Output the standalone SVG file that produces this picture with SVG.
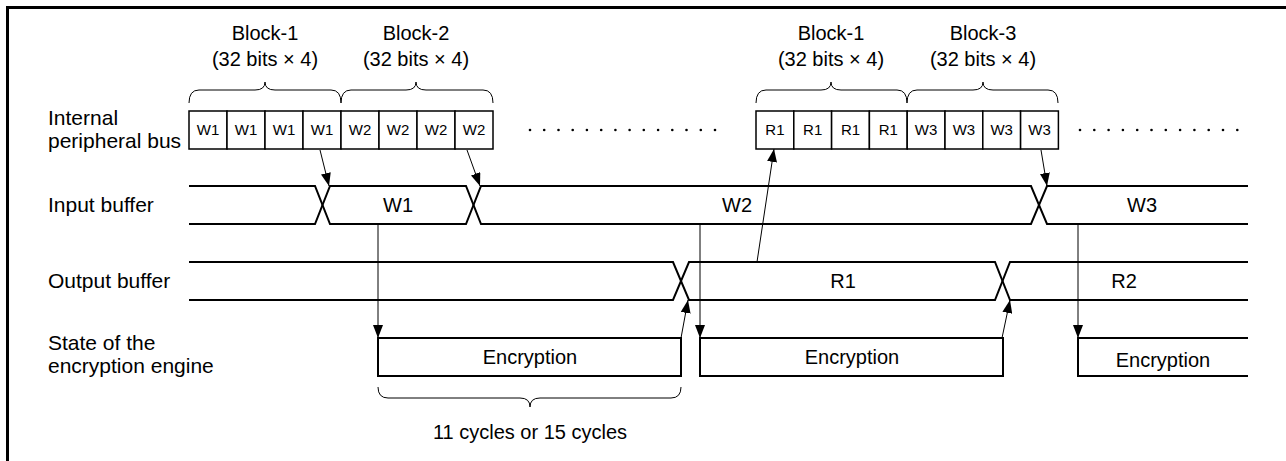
<svg xmlns="http://www.w3.org/2000/svg" width="1286" height="461" viewBox="0 0 1286 461">
<defs>
<marker id="ah" viewBox="0 0 13 10" refX="13" refY="5" markerWidth="13" markerHeight="10" markerUnits="userSpaceOnUse" orient="auto">
<path d="M0,0 L13,5 L0,10 Z" fill="#000"/>
</marker>
<style>
text{font-family:"Liberation Sans",Arial,sans-serif;fill:#000}
.lbl{font-size:20px}
.side{font-size:21px}
.mid{text-anchor:middle}
.w{font-size:15px;text-anchor:middle}
.box{fill:#fff;stroke:#000;stroke-width:1.5}
.sig{fill:none;stroke:#000;stroke-width:2}
.brace{fill:none;stroke:#000;stroke-width:1}
.arr{fill:none;stroke:#000;stroke-width:1;marker-end:url(#ah)}
.dot{fill:#000}
</style>
</defs>
<rect x="7.5" y="7.5" width="1300" height="470" fill="none" stroke="#000" stroke-width="3"/>

<g id="labels">
<text class="side" x="48" y="125">Internal</text>
<text class="side" x="48" y="148">peripheral bus</text>
<text class="side" x="48" y="212">Input buffer</text>
<text class="side" x="48" y="288">Output buffer</text>
<text class="side" x="48" y="350">State of the</text>
<text class="side" x="48" y="373">encryption engine</text>
</g>

<g id="block1a">
<text class="lbl mid" x="265" y="40">Block-1</text>
<text class="lbl mid" x="265" y="66">(32 bits × 4)</text>
<path class="brace" d="M189,103 Q189,90 199,90 L255,90 Q265,90 265,82 Q265,90 275,90 L331,90 Q341,90 341,103"/>
</g>
<g id="block2">
<text class="lbl mid" x="416" y="40">Block-2</text>
<text class="lbl mid" x="416" y="66">(32 bits × 4)</text>
<path class="brace" d="M341,103 Q341,90 351,90 L406,90 Q416,90 416,82 Q416,90 426,90 L483,90 Q493,90 493,103"/>
</g>
<g id="block1b">
<text class="lbl mid" x="831" y="40">Block-1</text>
<text class="lbl mid" x="831" y="66">(32 bits × 4)</text>
<path class="brace" d="M756,103 Q756,90 766,90 L821,90 Q831,90 831,82 Q831,90 841,90 L897,90 Q907,90 907,103"/>
</g>
<g id="block3">
<text class="lbl mid" x="983" y="40">Block-3</text>
<text class="lbl mid" x="983" y="66">(32 bits × 4)</text>
<path class="brace" d="M907,103 Q907,90 917,90 L973,90 Q983,90 983,82 Q983,90 993,90 L1048,90 Q1058,90 1058,103"/>
</g>

<g id="bus1">
<rect class="box" x="189" y="111" width="38" height="38"/><text class="w" x="208" y="135">W1</text>
<rect class="box" x="227" y="111" width="38" height="38"/><text class="w" x="246" y="135">W1</text>
<rect class="box" x="265" y="111" width="38" height="38"/><text class="w" x="284" y="135">W1</text>
<rect class="box" x="303" y="111" width="38" height="38"/><text class="w" x="322" y="135">W1</text>
<rect class="box" x="341" y="111" width="38" height="38"/><text class="w" x="360" y="135">W2</text>
<rect class="box" x="379" y="111" width="38" height="38"/><text class="w" x="398" y="135">W2</text>
<rect class="box" x="417" y="111" width="38" height="38"/><text class="w" x="436" y="135">W2</text>
<rect class="box" x="455" y="111" width="38" height="38"/><text class="w" x="474" y="135">W2</text>
</g>
<g id="bus2">
<rect class="box" x="756" y="111" width="37.8" height="38"/><text class="w" x="774.9" y="135">R1</text>
<rect class="box" x="793.8" y="111" width="37.8" height="38"/><text class="w" x="812.7" y="135">R1</text>
<rect class="box" x="831.6" y="111" width="37.8" height="38"/><text class="w" x="850.5" y="135">R1</text>
<rect class="box" x="869.4" y="111" width="37.8" height="38"/><text class="w" x="888.3" y="135">R1</text>
<rect class="box" x="907.2" y="111" width="37.8" height="38"/><text class="w" x="926.1" y="135">W3</text>
<rect class="box" x="945" y="111" width="37.8" height="38"/><text class="w" x="963.9" y="135">W3</text>
<rect class="box" x="982.8" y="111" width="37.8" height="38"/><text class="w" x="1001.7" y="135">W3</text>
<rect class="box" x="1020.6" y="111" width="37.8" height="38"/><text class="w" x="1039.5" y="135">W3</text>
</g>
<g id="dots">
<circle class="dot" cx="530" cy="130" r="1.3"/><circle class="dot" cx="544.2" cy="130" r="1.3"/><circle class="dot" cx="558.5" cy="130" r="1.3"/><circle class="dot" cx="572.7" cy="130" r="1.3"/><circle class="dot" cx="586.9" cy="130" r="1.3"/><circle class="dot" cx="601.2" cy="130" r="1.3"/><circle class="dot" cx="615.4" cy="130" r="1.3"/><circle class="dot" cx="629.6" cy="130" r="1.3"/><circle class="dot" cx="643.8" cy="130" r="1.3"/><circle class="dot" cx="658.1" cy="130" r="1.3"/><circle class="dot" cx="672.3" cy="130" r="1.3"/><circle class="dot" cx="686.5" cy="130" r="1.3"/><circle class="dot" cx="700.8" cy="130" r="1.3"/><circle class="dot" cx="715" cy="130" r="1.3"/>
<circle class="dot" cx="1080" cy="130" r="1.3"/><circle class="dot" cx="1094.3" cy="130" r="1.3"/><circle class="dot" cx="1108.6" cy="130" r="1.3"/><circle class="dot" cx="1122.9" cy="130" r="1.3"/><circle class="dot" cx="1137.2" cy="130" r="1.3"/><circle class="dot" cx="1151.5" cy="130" r="1.3"/><circle class="dot" cx="1165.8" cy="130" r="1.3"/><circle class="dot" cx="1180.1" cy="130" r="1.3"/><circle class="dot" cx="1194.4" cy="130" r="1.3"/><circle class="dot" cx="1208.7" cy="130" r="1.3"/><circle class="dot" cx="1223" cy="130" r="1.3"/><circle class="dot" cx="1237.3" cy="130" r="1.3"/>
</g>

<g id="input-buffer">
<path class="sig" d="M189,186 L315,186 L330,224 L466,224 L481,186 L1031,186 L1047,224 L1248,224"/>
<path class="sig" d="M189,224 L315,224 L330,186 L466,186 L481,224 L1031,224 L1047,186 L1248,186"/>
<text class="lbl mid" x="398" y="212">W1</text>
<text class="lbl mid" x="737" y="212">W2</text>
<text class="lbl mid" x="1142" y="212">W3</text>
</g>
<g id="output-buffer">
<path class="sig" d="M189,262 L673,262 L689,300 L995,300 L1010,262 L1248,262"/>
<path class="sig" d="M189,300 L673,300 L689,262 L995,262 L1010,300 L1248,300"/>
<text class="lbl mid" x="843" y="288">R1</text>
<text class="lbl mid" x="1124" y="288">R2</text>
</g>
<g id="engine">
<rect class="sig" x="378" y="338" width="303" height="38"/>
<text class="lbl mid" x="530" y="364">Encryption</text>
<rect class="sig" x="700" y="338" width="303" height="38"/>
<text class="lbl mid" x="852" y="364">Encryption</text>
<path class="sig" d="M1248,338 L1078,338 L1078,376 L1248,376"/>
<text class="lbl mid" x="1163" y="367">Encryption</text>
</g>
<g id="cycles">
<path class="brace" d="M378,387 Q378,398 388,398 L520,398 Q530,398 530,407 Q530,398 540,398 L671,398 Q681,398 681,387"/>
<text class="lbl mid" x="530" y="439">11 cycles or 15 cycles</text>
</g>

<g id="connectors">
<line class="arr" x1="320" y1="150" x2="329" y2="186"/>
<line class="arr" x1="467" y1="150" x2="480" y2="186"/>
<line class="arr" x1="757" y1="262" x2="774" y2="149"/>
<line class="arr" x1="1041" y1="150" x2="1047" y2="186"/>
<line class="arr" x1="378" y1="225" x2="378" y2="338"/>
<line class="arr" x1="700" y1="225" x2="700" y2="338"/>
<line class="arr" x1="1078" y1="225" x2="1078" y2="338"/>
<line class="arr" x1="681" y1="338" x2="688" y2="300"/>
<line class="arr" x1="1002" y1="338" x2="1010" y2="300"/>
</g>
</svg>
